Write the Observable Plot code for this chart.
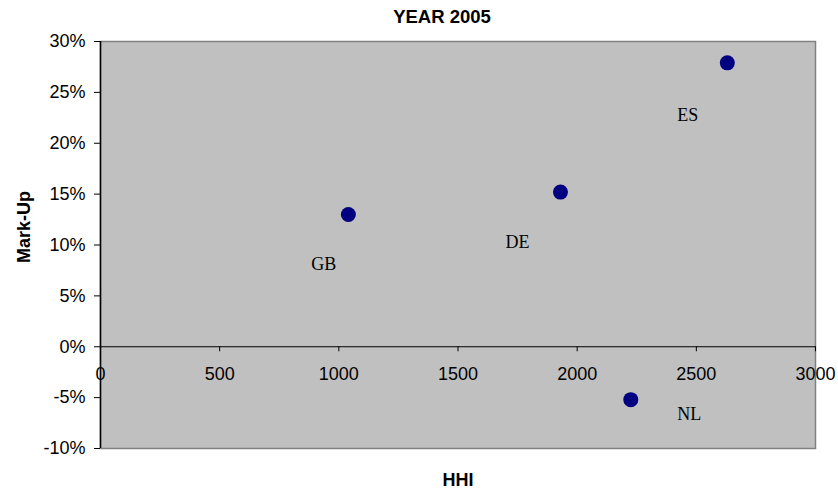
<!DOCTYPE html>
<html>
<head>
<meta charset="utf-8">
<script src="https://cdn.jsdelivr.net/npm/d3@7"></script>
<script src="https://cdn.jsdelivr.net/npm/@observablehq/plot@0.6"></script>
<style>
  html, body { margin: 0; padding: 0; background: #fff; }
  #chart svg { display: block; }
</style>
</head>
<body>
<div id="chart"></div>
<script>
// Data
const countries = ["GB", "DE", "ES", "NL"];
const hhi = [1040, 1930, 2630, 2225];
const markUp = [0.130, 0.152, 0.279, -0.052];
// label anchor positions (data units) as placed in the original chart
const labelHHI = [937, 1750, 2464, 2470];
const labelMarkUp = [0.081, 0.103, 0.228, -0.0665];

const xTicks = [0, 500, 1000, 1500, 2000, 2500, 3000];
const xTickLabels = ["0", "500", "1000", "1500", "2000", "2500", "3000"];
const yTicks = [-0.10, -0.05, 0, 0.05, 0.10, 0.15, 0.20, 0.25, 0.30];
const yTickLabels = ["-10%", "-5%", "0%", "5%", "10%", "15%", "20%", "25%", "30%"];

const titleText = "YEAR 2005";
const xTitle = "HHI";
const yTitle = "Mark-Up";

const points = countries.map((c, i) => ({country: c, hhi: hhi[i], markUp: markUp[i], lx: labelHHI[i], ly: labelMarkUp[i]}));
const xt = xTicks.map((v, i) => ({v, label: xTickLabels[i]}));

const sans = "'Liberation Sans', Arial, sans-serif";
const serif = "'Liberation Serif', 'Times New Roman', serif";

const chart = Plot.plot({
  width: 838,
  height: 490,
  marginLeft: 100,
  marginRight: 23,
  marginTop: 41,
  marginBottom: 42,
  style: {fontFamily: sans, fontSize: "18px", color: "#000", background: "#fff"},
  x: {domain: [0, 3000], axis: null},
  y: {domain: [-0.10, 0.30], axis: null},
  marks: [
    Plot.frame({fill: "#c0c0c0", stroke: "#808080", strokeWidth: 1.5}),
    Plot.axisY({ticks: yTicks, tickFormat: (d) => yTickLabels[yTicks.indexOf(d)], tickSize: 6, tickPadding: 9, fontSize: 18, label: null, anchor: "left"}),
    Plot.ruleX([0], {stroke: "#000", strokeWidth: 1.5}),
    Plot.ruleY([0], {stroke: "#000", strokeWidth: 1}),
    Plot.ruleX(xt, {x: "v", y1: 0, y2: 0, insetBottom: -5, stroke: "#000"}),
    Plot.text(xt, {x: "v", y: 0, text: "label", dy: 27, fontSize: 18, textAnchor: "middle", lineAnchor: "middle", fill: "#000"}),
    Plot.dot(points, {x: "hhi", y: "markUp", r: 7.5, fill: "#000080", stroke: null}),
    Plot.text(points, {x: "lx", y: "ly", text: "country", fontFamily: serif, fontSize: 18, textAnchor: "middle", lineAnchor: "middle", fill: "#000"}),
    Plot.text([titleText], {frameAnchor: "top", text: (d) => d, dx: -16, dy: -24, fontSize: 18.5, fontWeight: "bold", textAnchor: "middle", lineAnchor: "middle", fill: "#000"}),
    Plot.text([xTitle], {frameAnchor: "bottom", text: (d) => d, dy: 32, fontSize: 18, fontWeight: "bold", textAnchor: "middle", lineAnchor: "middle", fill: "#000"}),
    Plot.text([yTitle], {frameAnchor: "left", text: (d) => d, rotate: -90, dx: -76, dy: -18, fontSize: 18, fontWeight: "bold", textAnchor: "middle", lineAnchor: "middle", fill: "#000"})
  ]
});
document.getElementById("chart").appendChild(chart);
</script>
</body>
</html>
